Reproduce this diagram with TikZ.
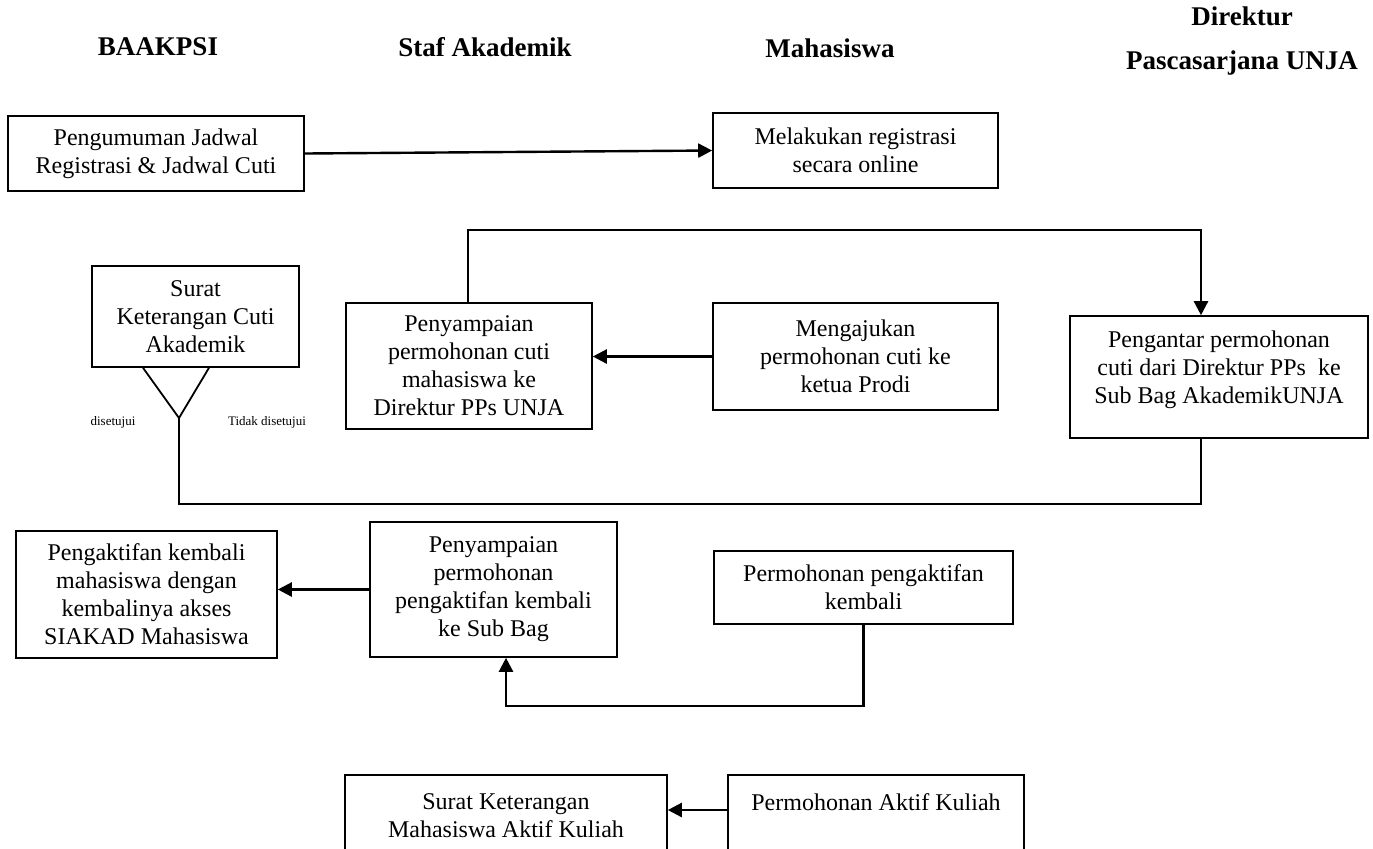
\documentclass[tikz,border=0pt]{standalone}
\usepackage{fontspec}
\setmainfont{Liberation Serif}
\usetikzlibrary{arrows.meta,calc}
\newcommand\mybox[6]{\node[box,minimum width={(#4-#2)*0.5pt},minimum height={(#5-#3)*0.5pt},#1] at ({(#2+#4)/2},{(#3+#5)/2}) {#6};}
\begin{document}
\begin{tikzpicture}[x=0.5pt,y=-0.5pt,
  box/.style={draw,line width=0.8pt,align=center,inner sep=0pt,font=\fontsize{12}{14}\selectfont},
  hdr/.style={align=center,inner sep=0pt,font=\fontsize{13.5}{15}\selectfont\bfseries},
  arr/.style={line width=1.2pt,-{Triangle[length=7pt,width=7pt]}},
  ln/.style={line width=0.9pt},
  small/.style={font=\fontsize{6.5}{8}\selectfont,inner sep=0pt}]
\clip (0,0) rectangle (1373,848);
% headers
\node[hdr] (h1) at (158,47) {BAAKPSI};
\node[hdr] (h2) at (485,47) {Staf Akademik};
\node[hdr] (h3) at (830,48) {Mahasiswa};
\node[hdr] (h4) at (1242,41) {Direktur\\[7pt]Pascasarjana UNJA};
% boxes
\mybox{name=B1}{8}{116}{304}{191}{Pengumuman Jadwal\\Registrasi \& Jadwal Cuti}
\mybox{name=B2}{713}{113}{998}{188}{Melakukan registrasi\\secara online}
\mybox{name=B3}{92}{266}{299}{367}{Surat\\Keterangan Cuti\\Akademik}
\mybox{name=B4}{346}{303}{592}{429}{Penyampaian\\permohonan cuti\\mahasiswa ke\\Direktur PPs UNJA}
\mybox{name=B5}{713}{303}{998}{410}{Mengajukan\\permohonan cuti ke\\ketua Prodi}
\mybox{name=B7,text depth=10pt}{1070}{316}{1368}{438}{Pengantar permohonan\\cuti dari Direktur PPs\ \ ke\\Sub Bag AkademikUNJA}
\mybox{name=B8}{16}{531}{277}{658}{Pengaktifan kembali\\mahasiswa dengan\\kembalinya akses\\SIAKAD Mahasiswa}
\mybox{name=B9}{370}{522}{617}{657}{Penyampaian\\permohonan\\pengaktifan kembali\\ke Sub Bag}
\mybox{name=B10}{714}{551}{1013}{624}{Permohonan pengaktifan\\kembali}
\mybox{name=B11}{345}{775}{667}{857}{Surat Keterangan\\Mahasiswa Aktif Kuliah}
\mybox{name=B12}{728}{775}{1024}{857}{Permohonan Aktif Kuliah\\\mbox{}}
% labels
\node[small] (l1) at (113,422) {disetujui};
\node[small] (l2) at (267,422) {Tidak disetujui};
% coordinates
\coordinate (t1) at (468,230);
\coordinate (t2) at (1201,230);
\coordinate (yj) at (179,418);
\coordinate (ya) at (143,367);
\coordinate (yb) at (209,367);
\coordinate (c1) at (1201,504);
\coordinate (c2) at (179,504);
\coordinate (d1) at (506,706);
\coordinate (e1) at (0,810);
% connectors
\draw[arr] (B1.east) -- (B2.west);
\draw[arr] (t1 |- B4.north) -- (t1) -- (t2) -- (t2 |- B7.north);
\draw[arr] (B5.west) -- (B5.west -| B4.east);
\draw[ln] (ya |- B3.south) -- (yj) -- (yb |- B3.south);
\draw[ln] (c1 |- B7.south) -- (c1) -- (c2) -- (yj);
\draw[arr] (B9.west) -- (B9.west -| B8.east);
\draw[arr] (B10.south) -- (B10.south |- d1) -- (d1) -- (d1 |- B9.south);
\draw[arr] (B12.west |- e1) -- (B11.east |- e1);
\end{tikzpicture}
\end{document}
